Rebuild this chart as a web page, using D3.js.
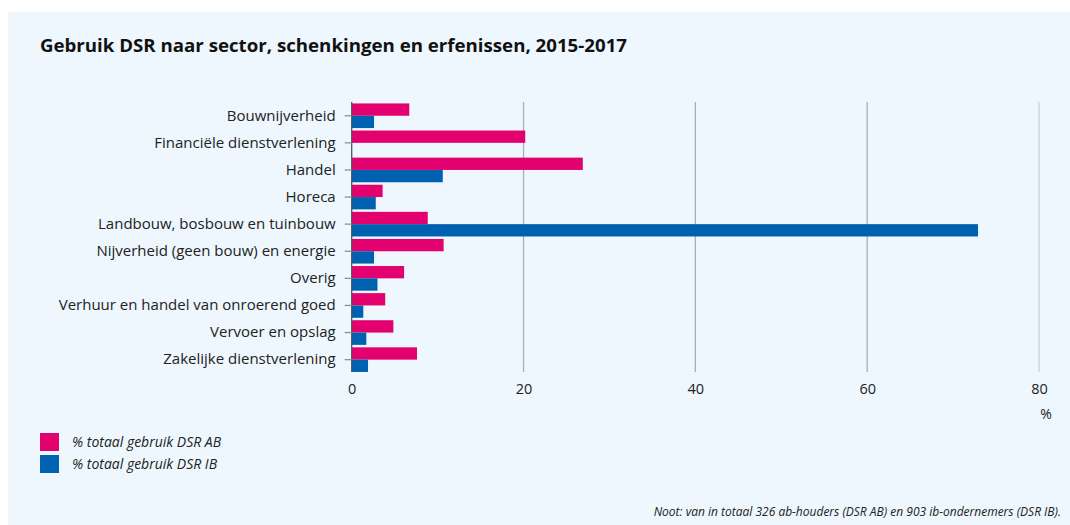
<!DOCTYPE html>
<html><head><meta charset="utf-8">
<script src="https://cdn.jsdelivr.net/npm/d3@7"></script>
<style>
html,body{margin:0;padding:0;background:#fff;}
svg{display:block;}
</style></head>
<body>
<svg id="c" width="1070" height="525"></svg>
<script>
const categories = ["Bouwnijverheid","Financiële dienstverlening","Handel","Horeca","Landbouw, bosbouw en tuinbouw","Nijverheid (geen bouw) en energie","Overig","Verhuur en handel van onroerend goed","Vervoer en opslag","Zakelijke dienstverlening"];
const seriesNames = ["% totaal gebruik DSR AB","% totaal gebruik DSR IB"];
const valuesAB = [6.7, 20.2, 26.9, 3.6, 8.85, 10.7, 6.1, 3.9, 4.85, 7.6];
const valuesIB = [2.6, 0, 10.6, 2.8, 72.9, 2.6, 3.0, 1.35, 1.7, 1.9];
const xTicks = [0, 20, 40, 60, 80];
const colors = ["#e3006f", "#0061b0"];

const svg = d3.select("#c");
const W = 1070, H = 525;
svg.append("rect").attr("x", 8).attr("y", 12).attr("width", W - 8).attr("height", H - 12).attr("fill", "#edf7fd");

svg.append("text").attr("x", 40).attr("y", 52)
  .attr("font-family", "'Open Sans', sans-serif").attr("font-weight", 700).attr("font-size", 17.5)
  .attr("fill", "#111").attr("textLength", 587).attr("lengthAdjust", "spacingAndGlyphs")
  .text("Gebruik DSR naar sector, schenkingen en erfenissen, 2015-2017");

const x = d3.scaleLinear().domain([0, 80]).range([351.7, 1039]);
const y = d3.scaleBand().domain(categories).range([102.2, 373.2]).padding(0);
const ys = d3.scaleBand().domain([0, 1]).range([0, y.bandwidth()]).paddingOuter(0.1).paddingInner(0);

const g = svg.append("g");
// gridlines
g.selectAll("line.grid").data(xTicks.filter(d => d > 0)).join("line")
  .attr("x1", d => x(d)).attr("x2", d => x(d)).attr("y1", 102).attr("y2", 372)
  .attr("stroke", d => d === 80 ? "#c9d3d8" : "#a9b0b4").attr("stroke-width", 1.3);

// bars
const series = [valuesAB, valuesIB];
series.forEach((vals, si) => {
  g.selectAll("rect.s" + si).data(categories).join("rect")
    .attr("x", x(0)).attr("y", (d) => y(d) + ys(si))
    .attr("width", (d, i) => x(vals[i]) - x(0))
    .attr("height", ys.bandwidth())
    .attr("fill", colors[si]);
});

// y axis
const yAxis = d3.axisLeft(y).tickSize(7).tickPadding(9);
const ya = g.append("g").attr("transform", `translate(${x(0)},0)`).call(yAxis);
ya.select(".domain").attr("stroke", "#555").attr("stroke-width", 1.3).attr("d", `M0,102V372`);
ya.selectAll(".tick line").attr("stroke", "#8a9296").attr("stroke-width", 1.3);
ya.selectAll(".tick text").attr("font-family", "'Open Sans', sans-serif").attr("font-size", 15).attr("fill", "#222");

// x axis
const xAxis = d3.axisBottom(x).tickValues(xTicks).tickSize(0).tickPadding(12);
const xa = g.append("g").attr("transform", `translate(0,372)`).call(xAxis);
xa.select(".domain").remove();
xa.selectAll(".tick text").attr("font-family", "'Open Sans', sans-serif").attr("font-size", 14.5).attr("fill", "#222");

svg.append("text").attr("x", 1046).attr("y", 419).attr("text-anchor", "middle")
  .attr("font-family", "'Open Sans', sans-serif").attr("font-size", 14).attr("fill", "#222").text("%");

// legend
seriesNames.forEach((n, i) => {
  svg.append("rect").attr("x", 40).attr("y", 433 + i * 22).attr("width", 19).attr("height", 18).attr("fill", colors[i]);
  svg.append("text").attr("x", 72).attr("y", 447 + i * 22)
    .attr("font-family", "'Open Sans', sans-serif").attr("font-style", "italic").attr("font-size", 14)
    .attr("fill", "#222").text(n);
});

svg.append("text").attr("x", 1061).attr("y", 516).attr("text-anchor", "end")
  .attr("font-family", "'Open Sans', sans-serif").attr("font-style", "italic").attr("font-size", 12)
  .attr("fill", "#222")
  .text("Noot: van in totaal 326 ab-houders (DSR AB) en 903 ib-ondernemers (DSR IB).");
</script>
</body></html>
